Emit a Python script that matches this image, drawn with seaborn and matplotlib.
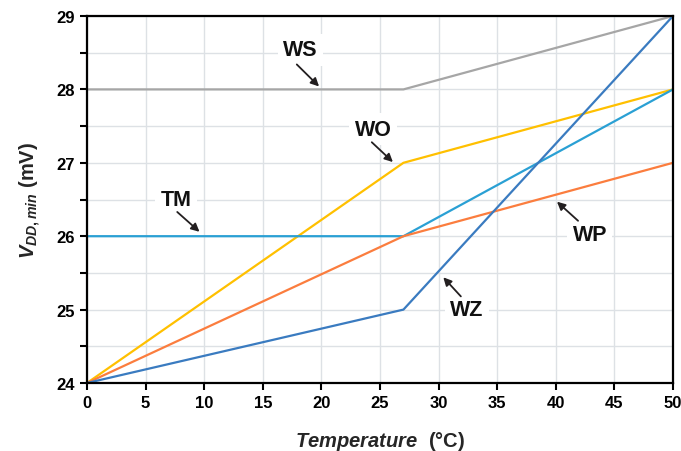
import pandas as pd
import numpy as np
import matplotlib
matplotlib.use('Agg')
import matplotlib.pyplot as plt
import seaborn as sns

temp = [0, 27, 50]
ws = [28, 28, 29]
wo = [24, 27, 28]
tm = [26, 26, 28]
wp = [24, 26, 27]
wz = [24, 25, 29]

series = {'WS': ws, 'WO': wo, 'TM': tm, 'WP': wp, 'WZ': wz}
colors = {'WS': '#a6a6a6', 'WO': '#ffc000', 'TM': '#2aa0d4', 'WP': '#fb7d3e', 'WZ': '#3a7bc0'}

rows = []
for name, vals in series.items():
    for t, v in zip(temp, vals):
        rows.append({'Temperature': t, 'V': v, 'design': name})
df = pd.DataFrame(rows)

sns.set_style('white')
plt.rcParams['font.family'] = ['Liberation Sans', 'DejaVu Sans']
plt.rcParams['mathtext.fontset'] = 'custom'
plt.rcParams['mathtext.rm'] = 'Liberation Sans:bold'
plt.rcParams['mathtext.it'] = 'Liberation Sans:bold:italic'
plt.rcParams['mathtext.bf'] = 'Liberation Sans:bold'

fig = plt.figure(figsize=(6.81, 4.52), dpi=100)
ax = fig.add_axes([87 / 681, 1 - 384 / 452, (673 - 87) / 681, (384 - 17) / 452])

ax.set_xticks(np.arange(0, 51, 5))
ax.set_yticks(np.arange(24, 29.01, 0.5), minor=True)
ax.set_yticks(np.arange(24, 30, 1))
ax.grid(True, which='both', color='#dde1e5', lw=1.0)
ax.set_axisbelow(True)

sns.lineplot(data=df, x='Temperature', y='V', hue='design', palette=colors,
             legend=False, ax=ax, lw=1.6)

ax.set_xlim(0, 50)
ax.set_ylim(24, 29)
for s in ax.spines.values():
    s.set_color('black')
    s.set_linewidth(1.6)
ax.tick_params(which='both', direction='out', length=5, width=1.5, colors='black',
               labelsize=12, left=True, bottom=True)
ax.tick_params(which='minor', labelleft=False)
for lab in ax.get_xticklabels() + ax.get_yticklabels():
    lab.set_fontweight('bold')

ax.set_xlabel(r'$\mathit{Temperature}$  (°C)', fontsize=14.5, fontweight='bold', labelpad=14)
ax.set_ylabel(r'$\mathit{V}_{\mathit{DD,min}}$ (mV)', fontsize=14.5, fontweight='bold', labelpad=10)

labels = [
    ('WS', (18.2, 28.54), (19.8, 28.04), (17.9, 28.34)),
    ('WO', (24.4, 27.46), (26.1, 27.01), (24.3, 27.28)),
    ('TM', (7.6, 26.5), (9.6, 26.06), (7.7, 26.33)),
    ('WP', (42.9, 26.02), (40.1, 26.47), (41.9, 26.21)),
    ('WZ', (32.4, 25.0), (30.4, 25.44), (31.9, 25.18)),
]
for name, txt, head, tail in labels:
    ax.text(txt[0], txt[1], name, ha='center', va='center', fontsize=15.5,
            fontweight='bold', color='#111111',
            bbox=dict(boxstyle='square,pad=0.25', fc='white', ec='none'))
    ax.annotate('', xy=head, xytext=tail,
                arrowprops=dict(arrowstyle='-|>', color='#231f20', lw=1.3,
                                mutation_scale=12, shrinkA=0, shrinkB=0))

fig.savefig('out.png', dpi=100)
